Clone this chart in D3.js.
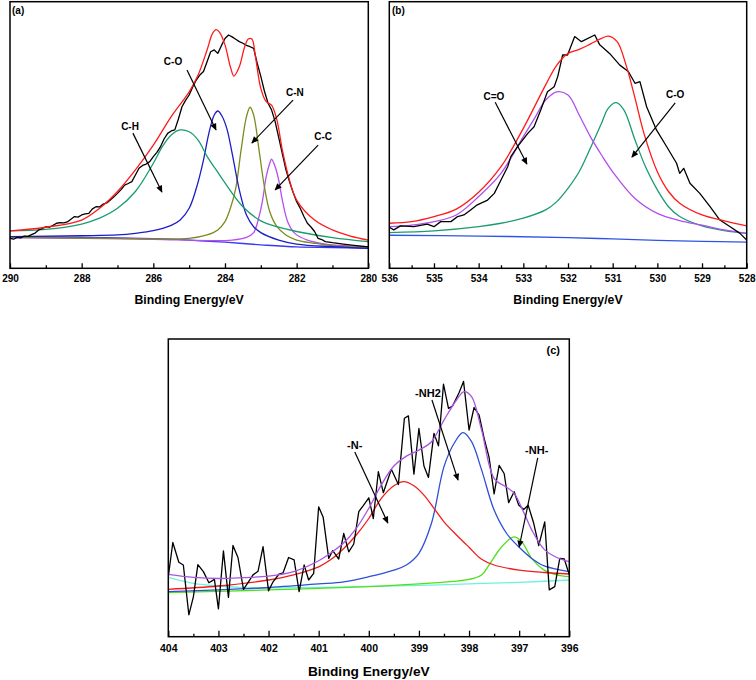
<!DOCTYPE html>
<html><head><meta charset="utf-8">
<script src="https://cdn.jsdelivr.net/npm/d3@7"></script>
<style>
body{margin:0;background:#fff}
svg{display:block}
text{font-family:"Liberation Sans",Arial,sans-serif;font-weight:bold;fill:#000}
</style>
</head><body>
<svg id="chart" width="756" height="680"></svg>
<script>
// ---------------- DATA (binding energy eV, intensity a.u.) ----------------
// Panel (a) C1s
const aRaw = [[290.0,11.2],[289.9,10.9],[289.8,11.6],[289.7,11.4],[289.6,12.1],[289.5,12.0],[289.4,12.6],[289.3,13.2],[289.2,14.4],[289.1,14.9],[289.0,15.6],[288.9,15.4],[288.8,16.1],[288.7,16.9],[288.6,17.1],[288.5,17.0],[288.4,17.4],[288.3,18.4],[288.2,19.4],[288.1,19.2],[288.0,20.0],[287.9,20.4],[287.8,20.6],[287.7,22.3],[287.6,23.1],[287.5,23.0],[287.4,24.1],[287.3,24.5],[287.2,25.6],[287.1,26.8],[287.0,28.1],[286.9,29.5],[286.8,31.2],[286.7,31.8],[286.6,32.5],[286.5,35.0],[286.4,37.5],[286.3,38.6],[286.2,39.1],[286.1,40.0],[286.0,41.9],[285.9,43.5],[285.8,45.6],[285.7,48.5],[285.6,50.6],[285.5,51.5],[285.4,51.9],[285.3,56.0],[285.2,60.6],[285.1,63.0],[285.0,65.0],[284.9,68.0],[284.8,70.6],[284.7,72.5],[284.6,73.8],[284.5,77.5],[284.4,81.2],[284.3,81.9],[284.2,80.6],[284.1,83.5],[284.0,86.2],[283.9,87.5],[283.8,86.8],[283.7,85.9],[283.6,85.0],[283.5,84.4],[283.4,83.6],[283.3,83.1],[283.2,82.5],[283.1,76.9],[283.0,72.0],[282.9,66.5],[282.8,62.0],[282.7,59.4],[282.6,55.0],[282.5,49.0],[282.4,43.0],[282.3,37.0],[282.2,32.5],[282.1,28.5],[282.0,25.0],[281.9,22.5],[281.8,19.5],[281.7,16.9],[281.6,15.5],[281.5,13.8],[281.4,11.2],[281.3,10.8],[281.2,10.0],[281.0,9.6],[280.7,9.1],[280.4,8.6],[280.0,8.0]];
const aEnvelope = [[290,14.0],[289,15.4],[288,18.1],[287.5,22.5],[287,28.8],[286.5,36.9],[286,46.2],[285.5,56.9],[285,66.2],[284.75,72.5],[284.5,81.9],[284.35,88.0],[284.25,89.5],[284.15,88.5],[284.0,83.8],[283.85,75.6],[283.75,72.1],[283.6,75.6],[283.45,83.1],[283.35,86.0],[283.25,86.0],[283.15,79.4],[283.0,67.5],[282.85,62.5],[282.7,61.2],[282.55,55.6],[282.4,44.4],[282.2,33.1],[282,25.6],[281.5,18.1],[281,14.4],[280.5,12.1],[280,10.6]];
const aCH = [[290,14.0],[289,14.6],[288,16.6],[287.5,18.8],[287,22.5],[286.5,28.8],[286,39.4],[285.75,45.6],[285.5,50.0],[285.25,51.9],[285,51.2],[284.75,48.1],[284.5,42.0],[284.25,37.0],[284,32.0],[283.5,23.1],[283,17.8],[282.5,15.4],[282,13.8],[281,11.5],[280,10.0]];
const aCO = [[290,11.9],[288,12.2],[287,12.5],[286.5,13.1],[286,14.1],[285.5,16.1],[285.25,18.1],[285,22.5],[284.8,30.0],[284.6,40.6],[284.45,50.6],[284.3,57.5],[284.2,59.0],[284.1,57.5],[283.95,52.5],[283.8,43.1],[283.6,29.4],[283.4,20.0],[283.2,15.6],[283,13.4],[282.5,10.6],[282,9.1],[281,8.1],[280,7.5]];
const aCN = [[290,11.6],[287,11.2],[285,11.2],[284.5,12.5],[284.2,14.4],[284,17.5],[283.85,22.5],[283.7,30.0],[283.55,44.4],[283.4,56.9],[283.3,60.4],[283.2,57.5],[283.05,44.4],[282.9,30.6],[282.75,21.2],[282.55,15.6],[282.3,12.5],[282,10.6],[281.5,9.4],[281,8.5],[280,7.8]];
const aCC = [[290,11.5],[288,11.2],[286,10.9],[284.5,10.4],[283.8,10.6],[283.4,11.6],[283.2,13.4],[283.05,19.4],[282.95,25.6],[282.85,34.4],[282.75,39.4],[282.7,40.9],[282.6,38.1],[282.5,33.1],[282.4,25.6],[282.25,17.5],[282.05,13.1],[281.7,10.6],[281.2,9.1],[280.5,8.4],[280,8.1]];
const aBackground = [[290,11.9],[288,11.6],[286,11.1],[285,10.6],[284,9.8],[283,8.8],[282,8.0],[281,7.8],[280,7.5]];
const aTicksMajor = [290,288,286,284,282,280];
const aTicksMinor = [289,287,285,283,281];

// Panel (b) O1s
const bRaw = [[536.0,15.4],[535.9,14.4],[535.75,15.9],[535.45,15.6],[535.15,16.6],[535.0,15.6],[534.85,17.5],[534.62,17.5],[534.47,19.4],[534.33,20.0],[534.18,21.9],[534.03,23.8],[533.8,25.6],[533.65,28.1],[533.5,33.1],[533.35,38.1],[533.28,41.9],[533.13,45.6],[532.9,50.6],[532.76,53.1],[532.61,59.4],[532.46,66.2],[532.31,68.1],[532.23,71.9],[532.12,80.0],[532.01,80.0],[531.85,86.9],[531.7,85.0],[531.4,87.5],[531.29,83.8],[531.07,80.6],[530.84,76.2],[530.65,73.8],[530.5,69.4],[530.39,70.0],[530.24,60.6],[530.02,51.9],[529.79,45.6],[529.57,39.4],[529.5,35.6],[529.41,37.5],[529.27,31.9],[529.05,28.1],[528.82,23.1],[528.6,18.1],[528.37,15.6],[528.15,13.1],[528.0,10.6]];
const bEnvelope = [[536,16.9],[535.5,17.5],[535,19.4],[534.5,22.2],[534,28.5],[533.5,38.1],[533,52.5],[532.5,68.8],[532.25,76.2],[532,80.6],[531.75,82.1],[531.5,84.1],[531.25,86.2],[531.1,87.1],[530.9,85.0],[530.7,76.2],[530.5,63.8],[530.3,50.6],[530,36.2],[529.75,28.8],[529.5,24.4],[529,20.0],[528.5,17.8],[528,15.9]];
const bCdO = [[536,15.6],[535.5,16.2],[535,17.5],[534.5,20.0],[534,26.9],[533.5,35.6],[533,49.4],[532.75,56.2],[532.5,63.1],[532.25,66.2],[532.0,65.0],[531.75,57.5],[531.5,49.4],[531.25,42.5],[531,36.2],[530.5,26.2],[530,20.6],[529.5,17.9],[529,16.2],[528.5,14.4],[528,13.1]];
const bCO = [[536,13.4],[535,14.0],[534,15.6],[533.5,16.9],[533,18.8],[532.5,21.9],[532.25,25.0],[532,30.0],[531.75,36.2],[531.5,45.0],[531.25,54.4],[531.1,60.0],[530.92,62.1],[530.75,59.4],[530.5,48.1],[530.25,37.5],[530,29.4],[529.75,23.1],[529.5,19.4],[529,15.9],[528.5,14.1],[528,13.1]];
const bBackground = [[536,12.4],[534,12.1],[532,11.5],[531,11.0],[530,10.5],[529,10.1],[528,9.8]];
const bTicksMajor = [536,535,534,533,532,531,530,529,528];
const bTicksMinor = [535.5,534.5,533.5,532.5,531.5,530.5,529.5,528.5];

// Panel (c) N1s
const cRaw = [[404.0,20.0],[403.91,31.4],[403.79,24.8],[403.7,23.9],[403.59,7.3],[403.5,13.3],[403.41,24.0],[403.3,21.7],[403.19,18.0],[403.08,19.1],[403.0,9.3],[402.9,28.6],[402.8,13.1],[402.71,30.4],[402.61,26.4],[402.5,15.8],[402.4,18.3],[402.31,20.6],[402.21,21.8],[402.11,30.0],[402.0,15.3],[401.91,18.3],[401.79,20.9],[401.71,21.3],[401.6,26.4],[401.49,25.6],[401.39,15.0],[401.29,23.9],[401.2,18.9],[401.1,21.1],[401.0,43.3],[400.91,39.8],[400.8,26.1],[400.72,28.7],[400.6,25.9],[400.5,34.4],[400.4,28.3],[400.3,30.9],[400.2,41.7],[400.11,43.7],[400.0,46.3],[399.91,39.4],[399.81,55.0],[399.71,48.0],[399.55,55.8],[399.41,50.7],[399.29,72.8],[399.21,73.6],[399.1,54.2],[399.0,69.4],[398.9,56.9],[398.81,53.1],[398.7,67.8],[398.61,63.6],[398.51,84.2],[398.41,76.1],[398.33,76.9],[398.2,81.3],[398.11,85.1],[398.0,68.9],[397.9,76.4],[397.8,73.9],[397.7,66.2],[397.6,59.8],[397.5,47.6],[397.4,57.1],[397.3,54.4],[397.21,44.7],[397.1,48.3],[397.01,43.9],[396.91,42.4],[396.82,43.8],[396.71,37.8],[396.61,30.4],[396.49,38.3],[396.4,15.6],[396.29,16.7],[396.19,26.1],[396.1,25.9],[396.0,20.6]];
const cEnvelope = [[404,20.8],[403.5,19.8],[403,19.4],[402.5,19.7],[402,20.2],[401.5,21.7],[401,25.3],[400.75,28.0],[400.5,31.3],[400.25,36.1],[400,42.8],[399.75,50.6],[399.5,56.9],[399.25,60.2],[399,62.2],[398.75,65.0],[398.5,72.2],[398.25,78.9],[398.1,81.7],[397.95,80.0],[397.75,68.9],[397.5,52.8],[397.25,49.8],[397.1,47.8],[396.9,41.1],[396.75,35.6],[396.5,29.1],[396.25,26.4],[396,25.0]];
const cN = [[404,15.8],[403,16.9],[402,18.9],[401.5,20.6],[401,23.3],[400.75,25.8],[400.5,29.4],[400.25,33.9],[400,39.4],[399.75,46.1],[399.5,50.3],[399.3,51.7],[399.1,50.3],[398.9,47.2],[398.7,42.8],[398.5,38.3],[398.25,33.9],[398,29.8],[397.75,25.8],[397.5,23.9],[397,22.2],[396.5,21.4],[396,20.9]];
const cNH2 = [[404,15.0],[403,15.6],[402,16.4],[401,17.6],[400.5,18.3],[400,20.0],[399.5,22.2],[399.25,23.9],[399,27.8],[398.75,37.8],[398.5,56.7],[398.3,64.4],[398.12,68.0],[397.95,65.0],[397.75,55.6],[397.5,42.2],[397.25,34.4],[397,29.8],[396.75,26.1],[396.5,23.6],[396,21.7]];
const cNH = [[404,14.7],[402,15.6],[400,16.7],[399,17.6],[398.5,18.2],[398,19.1],[397.75,20.6],[397.6,23.9],[397.4,28.9],[397.2,32.4],[397.1,33.3],[396.95,31.7],[396.75,26.1],[396.5,22.2],[396.25,20.6],[396,20.0]];
const cBackground = [[404,19.8],[403.75,18.7],[403.5,17.8],[403,16.9],[402.5,16.4],[402,16.3],[401,16.4],[400,16.8],[399,17.1],[398,17.6],[397,18.1],[396,18.9]];
const cTicksMajor = [404,403,402,401,400,399,398,397,396];
const cTicksMinor = [403.5,402.5,401.5,400.5,399.5,398.5,397.5,396.5];

// Annotations (data units): label position, arrow start, arrow end
const aNotes = [
  {text:"C-H", at:[286.65,53.0], from:[286.57,50.7], to:[285.76,28.6]},
  {text:"C-O", at:[285.45,77.4], from:[285.06,74.4], to:[284.25,51.9]},
  {text:"C-N", at:[282.05,66.1], from:[282.10,63.1], to:[283.25,47.0]},
  {text:"C-C", at:[281.26,49.6], from:[281.40,46.2], to:[282.60,29.4]}
];
const bNotes = [
  {text:"C=O", at:[533.66,64.6], from:[533.63,62.3], to:[532.92,39.1]},
  {text:"C-O", at:[529.60,65.0], from:[529.60,62.0], to:[530.57,41.7]}
];
const cNotes = [
  {text:"-N-", at:[400.28,63.9], from:[400.28,61.6], to:[399.62,37.9]},
  {text:"-NH2", at:[398.82,81.2], from:[398.74,78.9], to:[398.22,52.2]},
  {text:"-NH-", at:[396.65,62.2], from:[396.63,59.6], to:[397.00,29.9]}
];

// ---------------- DRAWING ----------------
const svg = d3.select("#chart");
const defs = svg.append("defs");
defs.append("marker").attr("id","arrowhead")
  .attr("viewBox","0 0 10 10").attr("refX",9).attr("refY",5)
  .attr("markerWidth",9).attr("markerHeight",7).attr("markerUnits","userSpaceOnUse")
  .attr("orient","auto")
  .append("path").attr("d","M0,0.5 L10,5 L0,9.5 Z").attr("fill","#000");

function drawPanel(cfg){
  const x = d3.scaleLinear().domain(cfg.xDomain).range([cfg.left, cfg.right]);
  const y = d3.scaleLinear().domain([0,100]).range([cfg.yZero, cfg.yHundred]);
  const g = svg.append("g");
  defs.append("clipPath").attr("id","clip-"+cfg.id)
    .append("rect").attr("x",cfg.left).attr("y",cfg.top)
    .attr("width",cfg.right-cfg.left).attr("height",cfg.bottom-cfg.top);
  const plot = g.append("g").attr("clip-path","url(#clip-"+cfg.id+")");
  cfg.series.forEach(s=>{
    const line = d3.line().x(d=>x(d[0])).y(d=>y(d[1]))
      .curve(s.smooth ? d3.curveCatmullRom.alpha(0.5) : d3.curveLinear);
    plot.append("path").datum(s.data.slice().sort((p,q)=>x(p[0])-x(q[0])))
      .attr("fill","none").attr("stroke",s.color).attr("stroke-width",s.width||1.3)
      .attr("stroke-linejoin","round").attr("d",line);
  });
  // ticks (inward)
  const major = d3.axisBottom(x).tickValues(cfg.major).tickSize(-cfg.majorLen)
    .tickPadding(cfg.pad).tickFormat(d3.format("d"));
  const gx = g.append("g").attr("transform",`translate(0,${cfg.bottom})`).call(major);
  gx.select(".domain").remove();
  gx.selectAll("line").attr("stroke","#000").attr("stroke-width",1.3);
  gx.selectAll("text").attr("font-size",cfg.tickFont+"px").attr("fill","#000")
    .style("font-family","'Liberation Sans',Arial,sans-serif").style("font-weight","bold");
  const minor = d3.axisBottom(x).tickValues(cfg.minor).tickSize(-cfg.minorLen).tickFormat("");
  const gm = g.append("g").attr("transform",`translate(0,${cfg.bottom})`).call(minor);
  gm.select(".domain").remove();
  gm.selectAll("line").attr("stroke","#000").attr("stroke-width",1.3);
  // frame
  g.append("rect").attr("x",cfg.left).attr("y",cfg.top)
    .attr("width",cfg.right-cfg.left).attr("height",cfg.bottom-cfg.top)
    .attr("fill","none").attr("stroke","#000").attr("stroke-width",1.5);
  // axis title
  g.append("text").attr("x",(cfg.left+cfg.right)/2).attr("y",cfg.titleY)
    .attr("text-anchor","middle").attr("font-size",cfg.titleFont+"px")
    .text("Binding Energy/eV");
  // panel tag
  g.append("text").attr("x",cfg.tag.x).attr("y",cfg.tag.y)
    .attr("text-anchor",cfg.tag.anchor).attr("font-size",cfg.tagFont+"px").text(cfg.tag.text);
  // annotations
  cfg.notes.forEach(n=>{
    g.append("line").attr("x1",x(n.from[0])).attr("y1",y(n.from[1]))
      .attr("x2",x(n.to[0])).attr("y2",y(n.to[1]))
      .attr("stroke","#000").attr("stroke-width",1.2).attr("marker-end","url(#arrowhead)");
    g.append("text").attr("x",x(n.at[0])).attr("y",y(n.at[1])).attr("dy","0.35em")
      .attr("text-anchor","middle").attr("font-size",cfg.noteFont+"px").text(n.text);
  });
}

drawPanel({
  id:"a", xDomain:[290,280], left:10, right:368.3, top:1.7, bottom:268.3,
  yZero:268.3, yHundred:1.67, major:aTicksMajor, minor:aTicksMinor,
  majorLen:5, minorLen:3, pad:7, tickFont:10, titleY:303.5, titleFont:12.3,
  tag:{text:"(a)", x:12, y:14, anchor:"start"}, tagFont:10, noteFont:10,
  notes:aNotes,
  series:[
    {data:aBackground, color:"#3a3af0", smooth:true},
    {data:aCC, color:"#b84ef0", smooth:true},
    {data:aCN, color:"#7a8c1c", smooth:true},
    {data:aCO, color:"#1c1cc8", smooth:true},
    {data:aCH, color:"#1a9c6e", smooth:true},
    {data:aRaw, color:"#000000", smooth:false},
    {data:aEnvelope, color:"#ff1a1a", smooth:true}
  ]
});

drawPanel({
  id:"b", xDomain:[536,528], left:389.3, right:746.7, top:1.7, bottom:268.3,
  yZero:268.3, yHundred:1.67, major:bTicksMajor, minor:bTicksMinor,
  majorLen:5, minorLen:3, pad:7, tickFont:10, titleY:303.5, titleFont:12.3,
  tag:{text:"(b)", x:392, y:14, anchor:"start"}, tagFont:10, noteFont:10,
  notes:bNotes,
  series:[
    {data:bBackground, color:"#2f55e8", smooth:true},
    {data:bCO, color:"#1a9c6e", smooth:true},
    {data:bCdO, color:"#b04ef0", smooth:true},
    {data:bRaw, color:"#000000", smooth:false},
    {data:bEnvelope, color:"#ff1a1a", smooth:true}
  ]
});

drawPanel({
  id:"c", xDomain:[404,396], left:168.3, right:569.3, top:339, bottom:636.7,
  yZero:636.7, yHundred:336.7, major:cTicksMajor, minor:cTicksMinor,
  majorLen:6, minorLen:3, pad:7.5, tickFont:10.5, titleY:675.5, titleFont:13.7,
  tag:{text:"(c)", x:560, y:354, anchor:"end"}, tagFont:11, noteFont:11,
  notes:cNotes,
  series:[
    {data:cBackground, color:"#6ff0e0", smooth:true},
    {data:cNH, color:"#4fe01c", smooth:true},
    {data:cNH2, color:"#2e4fd8", smooth:true},
    {data:cN, color:"#f01c1c", smooth:true},
    {data:cRaw, color:"#000000", smooth:false},
    {data:cEnvelope, color:"#a855e0", smooth:true}
  ]
});
</script>
</body></html>
